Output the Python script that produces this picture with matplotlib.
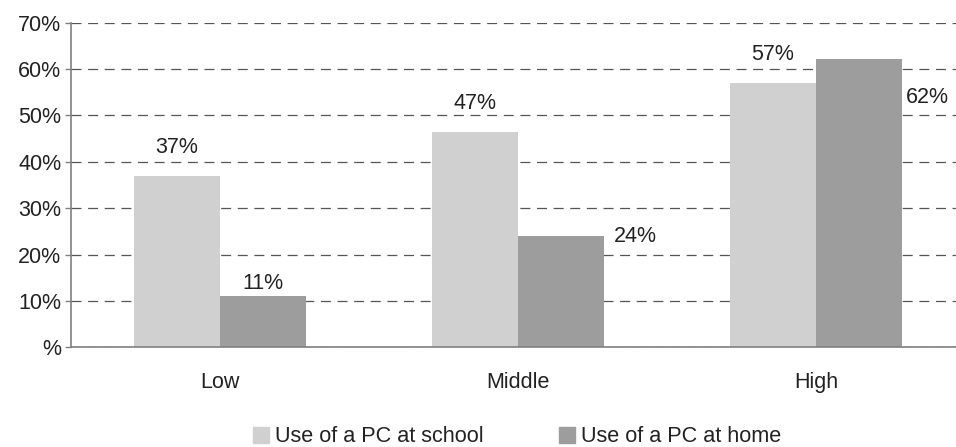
import matplotlib
matplotlib.use("Agg")
import matplotlib.pyplot as plt
import numpy as np
from matplotlib.patches import Patch

plt.rcParams['font.family'] = ['Liberation Sans', 'DejaVu Sans']

categories = ["Low", "Middle", "High"]
school = [37, 46.5, 57]
home = [11, 24, 62.2]
school_labels = ["37%", "47%", "57%"]
home_labels = ["11%", "24%", "62%"]
yticks = [0, 10, 20, 30, 40, 50, 60, 70]
ytick_labels = ["%", "10%", "20%", "30%", "40%", "50%", "60%", "70%"]

c_school = "#d0d0d0"
c_home = "#9d9d9d"
fs = 15.5
tc = "#222222"

fig = plt.figure(figsize=(9.56, 4.47), dpi=100)
ax = fig.add_axes([71/956, 1-347.3/447, 894/956, (347.3-22.7)/447])

x = np.arange(len(categories))
w = 0.289
ax.bar(x - w/2, school, w, color=c_school, zorder=2)
ax.bar(x + w/2, home, w, color=c_home, zorder=2)

ax.set_xlim(-0.5, 2.5)
ax.set_ylim(0, 70)
ax.set_yticks(yticks)
ax.set_yticklabels(ytick_labels, fontsize=fs, color=tc)
ax.set_xticks(x)
ax.set_xticklabels(categories, fontsize=fs, color=tc)
ax.tick_params(axis='x', length=0, pad=18)
ax.tick_params(axis='y', length=4, width=1, color="#808080", pad=3)
ax.yaxis.grid(True, linestyle=(0, (8, 5.3)), color="#555555", linewidth=0.9, zorder=0)
ax.set_axisbelow(True)
for s in ['top', 'right']:
    ax.spines[s].set_visible(False)
for s in ['left', 'bottom']:
    ax.spines[s].set_color("#808080")
    ax.spines[s].set_linewidth(1.2)

for i in range(len(categories)):
    ax.annotate(school_labels[i], (x[i] - w/2, school[i]), xytext=(0, 13),
                textcoords='offset points', ha='center', va='bottom', fontsize=fs, color=tc)
ax.annotate(home_labels[0], (x[0] + w/2, home[0]), xytext=(0, 2),
            textcoords='offset points', ha='center', va='bottom', fontsize=fs, color=tc)
ax.annotate(home_labels[1], (x[1] + w, home[1]), xytext=(7, 0),
            textcoords='offset points', ha='left', va='center', fontsize=fs, color=tc)
ax.annotate(home_labels[2], (x[2] + w, home[2]), xytext=(3, -28),
            textcoords='offset points', ha='left', va='center', fontsize=fs, color=tc)

handles = [Patch(color=c_school, label="Use of a PC at school"),
           Patch(color=c_home, label="Use of a PC at home")]
fig.legend(handles=handles, loc='center', bbox_to_anchor=(0.541, 1-437/447), ncol=2,
           frameon=False, fontsize=15.6, handlelength=0.74, handleheight=0.74,
           handletextpad=0.25, columnspacing=3.5, labelcolor=tc, borderpad=0)

fig.savefig("out.png", dpi=100)
